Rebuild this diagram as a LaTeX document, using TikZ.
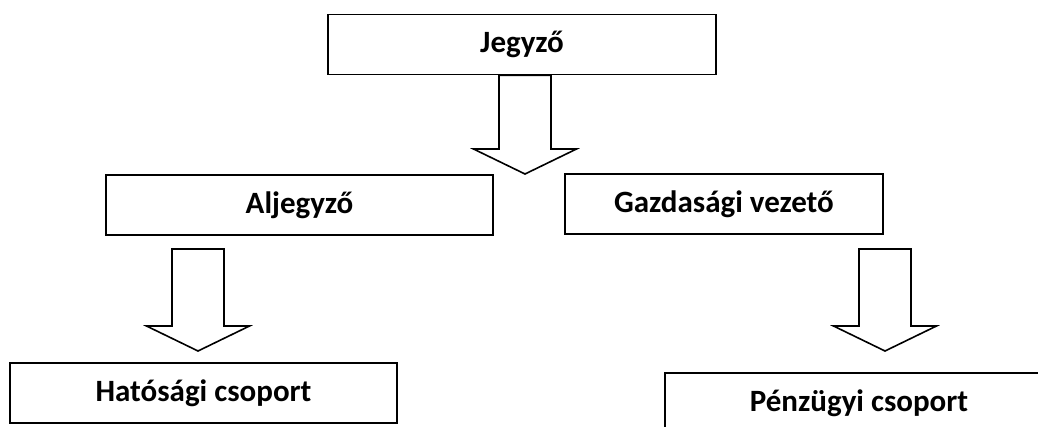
\documentclass[tikz,border=0pt]{standalone}
\usepackage{fontspec}
\setmainfont{Carlito}
\usetikzlibrary{calc}
\tikzset{
  box/.style={draw=black, line width=1.8pt, fill=white, inner sep=0pt,
    minimum height=60pt, font=\fontsize{31}{36}\selectfont\bfseries},
  barrow/.style={draw=black, line width=1.6pt, fill=white, line join=miter}
}
\newcommand\blockarrow[2]{%
  \draw[barrow] ($(#1)+(-26,0)$) -- ($(#2)+(-26,-25)$) -- ($(#2)+(-51.5,-25)$)
    -- (#2) -- ($(#2)+(51.5,-25)$) -- ($(#2)+(26,-25)$) -- ($(#1)+(26,0)$) -- cycle;}
\begin{document}
\begin{tikzpicture}[x=1pt, y=-1pt]
\useasboundingbox (0,0) rectangle (1038,427);
\clip (0,0) rectangle (1038,427);
\node[box, minimum width=388pt] (jegyzo) at (522,44.5) {Jegyző};
\node[box, minimum width=387pt] (aljegyzo) at (299.5,205) {Aljegyző};
\node[box, minimum width=318pt] (gazd) at (724,204) {Gazdasági vezető};
\node[box, minimum width=387pt] (hatosagi) at (203.5,393) {Hatósági csoport};
\node[box, minimum width=388pt] (penzugyi) at (859,403) {Pénzügyi csoport};
% block arrows
\coordinate (a1top) at ($(jegyzo.south)+(3,0)$);
\coordinate (a1tip) at (525,174);
\coordinate (a2top) at (198,249);
\coordinate (a2tip) at (198,351);
\coordinate (a3top) at (885,249);
\coordinate (a3tip) at (885,351);
\blockarrow{a1top}{a1tip}
\blockarrow{a2top}{a2tip}
\blockarrow{a3top}{a3tip}
\end{tikzpicture}
\end{document}
